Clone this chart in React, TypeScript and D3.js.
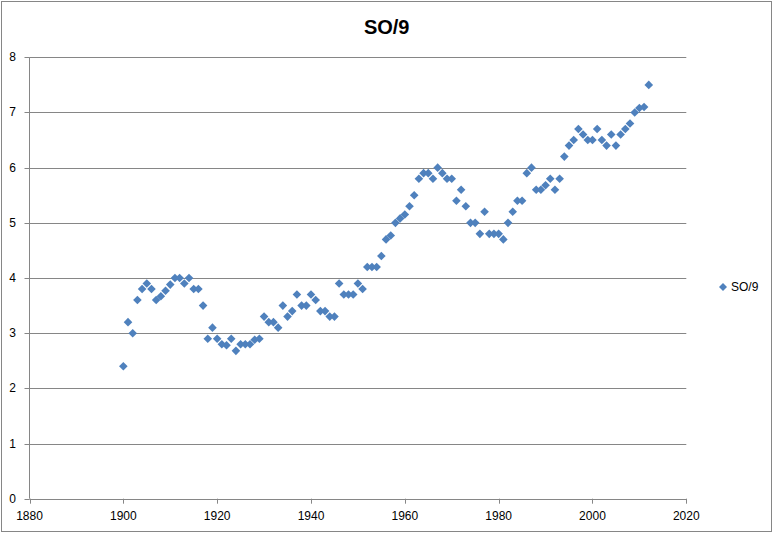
import React from "react";
import * as d3 from "d3";

const years: number[] = d3.range(1900, 2013);
const values: number[] = [
  2.4, 3.2, 3.0, 3.6, 3.8, 3.9, 3.8, 3.6, 3.67, 3.77,
  3.88, 4.0, 4.0, 3.9, 4.0, 3.8, 3.8, 3.5, 2.9, 3.1,
  2.9, 2.8, 2.78, 2.9, 2.68, 2.8, 2.8, 2.8, 2.88, 2.9,
  3.3, 3.2, 3.2, 3.1, 3.5, 3.3, 3.4, 3.7, 3.5, 3.5,
  3.7, 3.6, 3.4, 3.4, 3.3, 3.3, 3.9, 3.7, 3.7, 3.7,
  3.9, 3.8, 4.2, 4.2, 4.2, 4.4, 4.7, 4.77, 5.0, 5.08,
  5.15, 5.3, 5.5, 5.8, 5.9, 5.9, 5.8, 6.0, 5.9, 5.8,
  5.8, 5.4, 5.6, 5.3, 5.0, 5.0, 4.8, 5.2, 4.8, 4.8,
  4.8, 4.7, 5.0, 5.2, 5.4, 5.4, 5.9, 6.0, 5.6, 5.6,
  5.68, 5.8, 5.6, 5.8, 6.2, 6.4, 6.5, 6.7, 6.6, 6.5,
  6.5, 6.7, 6.5, 6.4, 6.6, 6.4, 6.6, 6.7, 6.8, 7.0,
  7.08, 7.1, 7.5,
];
const xTicks: number[] = [1880, 1900, 1920, 1940, 1960, 1980, 2000, 2020];
const yTicks: number[] = [0, 1, 2, 3, 4, 5, 6, 7, 8];
const seriesName = "SO/9";
const title = "SO/9";

const W = 774;
const H = 534;
const left = 29.5;
const right = 686.3;
const top = 57.3;
const bottom = 498.7;
const BLUE = "#4F81BD";
const GRID = "#868686";
const FONT = "'Liberation Sans', Arial, sans-serif";

export default function App() {
  const x = d3.scaleLinear().domain([1880, 2020]).range([left, right]);
  const y = d3.scaleLinear().domain([0, 8]).range([bottom, top]);
  const r = 4.3;
  const diamond = (cx: number, cy: number) =>
    `M${cx},${cy - r}L${cx + r},${cy}L${cx},${cy + r}L${cx - r},${cy}Z`;

  return (
    <div style={{ position: "absolute", left: 0, top: 0 }}>
      <svg width={W} height={H} style={{ display: "block", background: "#fff" }}>
        <rect x={1.5} y={1.5} width={770} height={530} fill="#fff" stroke={GRID} strokeWidth={1} />
        <text x={386.7} y={34} textAnchor="middle" fontFamily={FONT} fontWeight="bold" fontSize={20} fill="#000">
          {title}
        </text>
        {yTicks.filter((t) => t > 0).map((t) => (
          <line key={"g" + t} x1={left} x2={right} y1={Math.round(y(t)) + 0.5} y2={Math.round(y(t)) + 0.5} stroke={GRID} strokeWidth={1} />
        ))}
        {/* y axis */}
        <line x1={left} x2={left} y1={top} y2={bottom} stroke={GRID} strokeWidth={1} />
        {yTicks.map((t) => (
          <g key={"yt" + t}>
            <line x1={left - 5} x2={left} y1={Math.round(y(t)) + 0.5} y2={Math.round(y(t)) + 0.5} stroke={GRID} />
            <text x={16} y={y(t) + 4} textAnchor="end" fontFamily={FONT} fontSize={12} fill="#000">
              {t}
            </text>
          </g>
        ))}
        {/* x axis */}
        <line x1={left} x2={right} y1={Math.round(bottom) + 0.5} y2={Math.round(bottom) + 0.5} stroke={GRID} strokeWidth={1} />
        {xTicks.map((t) => (
          <g key={"xt" + t}>
            <line x1={Math.round(x(t)) + 0.5} x2={Math.round(x(t)) + 0.5} y1={bottom} y2={bottom + 5} stroke={GRID} />
            <text x={x(t)} y={520} textAnchor="middle" fontFamily={FONT} fontSize={12} fill="#000">
              {t}
            </text>
          </g>
        ))}
        {years.map((yr, i) => (
          <path key={"p" + yr} d={diamond(x(yr), y(values[i]))} fill={BLUE} />
        ))}
        {/* legend */}
        <path d={`M723,${287 - 4}L727,287L723,${287 + 4}L719,287Z`} fill={BLUE} />
        <text x={731} y={291} fontFamily={FONT} fontSize={12} fill="#000">
          {seriesName}
        </text>
      </svg>
    </div>
  );
}
